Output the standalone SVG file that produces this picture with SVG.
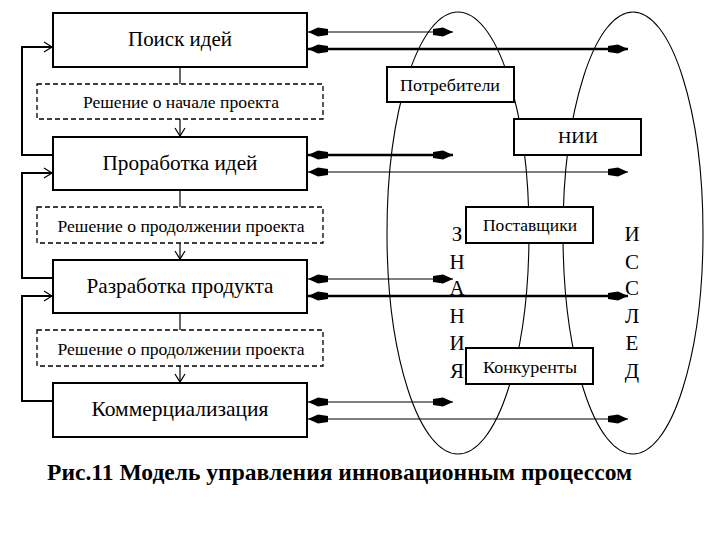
<svg xmlns="http://www.w3.org/2000/svg" width="720" height="540" viewBox="0 0 720 540" font-family="Liberation Serif, DejaVu Serif, serif">
<style>
.box{fill:#fff;stroke:#000;stroke-width:2}
.dbox{fill:#fff;stroke:#000;stroke-width:1.3;stroke-dasharray:5,3}
.rbox{fill:#fff;stroke:#000;stroke-width:2}
.t{fill:#000;text-anchor:middle}
.big{font-size:21px}
.small{font-size:16px}
.rt{font-size:16px}
.let{font-size:21px}
.ell{fill:none;stroke:#000;stroke-width:1.1}
.thin{stroke:#000;stroke-width:1.2;fill:none}
.thick{stroke:#000;stroke-width:2.5;fill:none}
.fb{stroke:#000;stroke-width:2;fill:none}
.vl{stroke:#000;stroke-width:1.2;fill:none}
</style>
<defs>
<marker id="ah" markerUnits="userSpaceOnUse" markerWidth="22" markerHeight="12" refX="20" refY="6" orient="auto-start-reverse">
<path d="M0,3 L10,1.5 L20,6 L10,10.5 L0,9 Z" fill="#000"/>
</marker>
<marker id="oa" markerUnits="userSpaceOnUse" markerWidth="12" markerHeight="12" refX="10" refY="6" orient="auto">
<path d="M2,1 L10,6 L2,11" fill="none" stroke="#000" stroke-width="1.2"/>
</marker>
</defs>
<rect width="720" height="540" fill="#fff"/>

<g id="ellipses">
<ellipse class="ell" cx="458" cy="233" rx="71" ry="221"/>
<ellipse class="ell" cx="633" cy="233" rx="70" ry="221"/>
</g>

<g id="connectors">
<polyline class="fb" points="53,155 22,155 22,47 52,47" marker-end="url(#oa)"/>
<polyline class="fb" points="53,278 22,278 22,173 52,173" marker-end="url(#oa)"/>
<polyline class="fb" points="53,401 22,401 22,296 52,296" marker-end="url(#oa)"/>
<line class="vl" x1="180" y1="67" x2="180" y2="84"/>
<line class="vl" x1="180" y1="119" x2="180" y2="136" marker-end="url(#oa)"/>
<line class="vl" x1="180" y1="190" x2="180" y2="207"/>
<line class="vl" x1="180" y1="243" x2="180" y2="259" marker-end="url(#oa)"/>
<line class="vl" x1="180" y1="313" x2="180" y2="330"/>
<line class="vl" x1="180" y1="366" x2="180" y2="382" marker-end="url(#oa)"/>
<line class="thin" x1="308" y1="32" x2="453" y2="32" marker-start="url(#ah)" marker-end="url(#ah)"/>
<line class="thick" x1="308" y1="49" x2="628" y2="49" marker-start="url(#ah)" marker-end="url(#ah)"/>
<line class="thick" x1="308" y1="155" x2="453" y2="155" marker-start="url(#ah)" marker-end="url(#ah)"/>
<line class="thin" x1="308" y1="172" x2="628" y2="172" marker-start="url(#ah)" marker-end="url(#ah)"/>
<line class="thin" x1="308" y1="279" x2="453" y2="279" marker-start="url(#ah)" marker-end="url(#ah)"/>
<line class="thick" x1="308" y1="296" x2="628" y2="296" marker-start="url(#ah)" marker-end="url(#ah)"/>
<line class="thin" x1="308" y1="402" x2="453" y2="402" marker-start="url(#ah)" marker-end="url(#ah)"/>
<line class="thin" x1="308" y1="419" x2="628" y2="419" marker-start="url(#ah)" marker-end="url(#ah)"/>
</g>

<g id="n1"><rect class="box" x="53" y="13" width="254" height="54"/><text class="t big" x="180" y="46" textLength="104" lengthAdjust="spacingAndGlyphs">Поиск идей</text></g>
<g id="d1"><rect class="dbox" x="37" y="84" width="286" height="35"/><text class="t small" x="181" y="108" textLength="196" lengthAdjust="spacingAndGlyphs">Решение о начале проекта</text></g>
<g id="n2"><rect class="box" x="53" y="137" width="254" height="53"/><text class="t big" x="180" y="170" textLength="155" lengthAdjust="spacingAndGlyphs">Проработка идей</text></g>
<g id="d2"><rect class="dbox" x="37" y="207" width="286" height="36"/><text class="t small" x="181" y="232" textLength="247" lengthAdjust="spacingAndGlyphs">Решение о продолжении проекта</text></g>
<g id="n3"><rect class="box" x="53" y="260" width="254" height="53"/><text class="t big" x="180" y="293" textLength="187" lengthAdjust="spacingAndGlyphs">Разработка продукта</text></g>
<g id="d3"><rect class="dbox" x="37" y="330" width="286" height="36"/><text class="t small" x="181" y="355" textLength="247" lengthAdjust="spacingAndGlyphs">Решение о продолжении проекта</text></g>
<g id="n4"><rect class="box" x="53" y="383" width="254" height="54"/><text class="t big" x="180" y="416" textLength="177" lengthAdjust="spacingAndGlyphs">Коммерциализация</text></g>

<g id="r1"><rect class="rbox" x="387" y="67" width="127" height="35"/><text class="t rt" x="450" y="91" textLength="100" lengthAdjust="spacingAndGlyphs">Потребители</text></g>
<g id="r2"><rect class="rbox" x="514" y="119" width="127" height="36"/><text class="t rt" x="578" y="143" textLength="40" lengthAdjust="spacingAndGlyphs">НИИ</text></g>
<g id="r3"><rect class="rbox" x="466" y="207" width="127" height="36"/><text class="t rt" x="530" y="231" textLength="94" lengthAdjust="spacingAndGlyphs">Поставщики</text></g>
<g id="r4"><rect class="rbox" x="466" y="348" width="127" height="36"/><text class="t rt" x="530" y="373" textLength="94" lengthAdjust="spacingAndGlyphs">Конкуренты</text></g>

<g id="znaniya">
<text class="t let" x="457" y="241">З</text>
<text class="t let" x="457" y="269">Н</text>
<text class="t let" x="457" y="295">А</text>
<text class="t let" x="457" y="323">Н</text>
<text class="t let" x="457" y="350">И</text>
<text class="t let" x="457" y="378">Я</text>
</g>
<g id="issled">
<text class="t let" x="632" y="241">И</text>
<text class="t let" x="632" y="269">С</text>
<text class="t let" x="632" y="295">С</text>
<text class="t let" x="632" y="323">Л</text>
<text class="t let" x="632" y="350">Е</text>
<text class="t let" x="632" y="378">Д</text>
</g>

<text x="47" y="480" font-size="23" font-weight="bold" textLength="585" lengthAdjust="spacingAndGlyphs">Рис.11 Модель управления инновационным процессом</text>
</svg>
